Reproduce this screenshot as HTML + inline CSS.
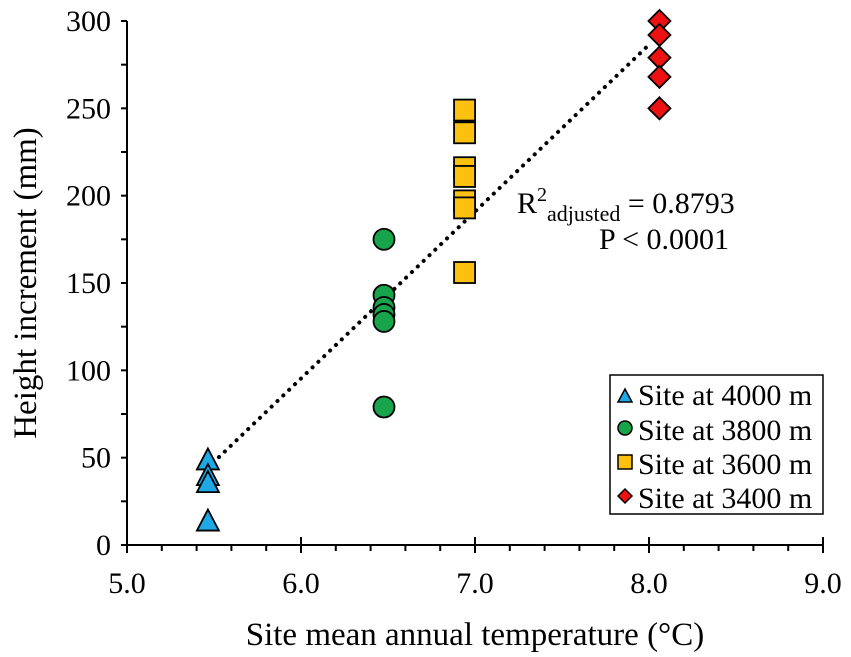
<!DOCTYPE html>
<html><head><meta charset="utf-8"><style>
body{margin:0;background:#fff}
svg{display:block;font-family:"Liberation Serif",serif}
</style></head><body>
<svg id="chart" width="851" height="657" viewBox="0 0 851 657" xmlns="http://www.w3.org/2000/svg">
<g id="axes"></g><g id="marks"></g>
<text x="517" y="213" font-size="30">R<tspan dy="-12" font-size="20">2</tspan><tspan dy="20" font-size="22">adjusted</tspan><tspan dy="-8"> = 0.8793</tspan></text>
<text x="599" y="249" font-size="30">P &lt; 0.0001</text>
<text x="475" y="645" font-size="33" text-anchor="middle">Site mean annual temperature (°C)</text>
<text transform="translate(36,283) rotate(-90)" font-size="33" text-anchor="middle">Height increment (mm)</text>
<g>
<rect x="610" y="375" width="213" height="139" fill="#fff" stroke="#000" stroke-width="1.5"/>
<polygon points="618,402 625,389 632,402" fill="#1ea8e6" stroke="#000" stroke-width="1.5"/>
<circle cx="625" cy="428" r="7" fill="#17a44b" stroke="#000" stroke-width="1.5"/>
<rect x="618" y="455" width="14" height="14" fill="#fcc10f" stroke="#000" stroke-width="1.5"/>
<polygon points="625,489 632,496 625,503 618,496" fill="#ee1111" stroke="#000" stroke-width="1.5"/>
<text x="638" y="405" font-size="30">Site at 4000 m</text>
<text x="638" y="440" font-size="30">Site at 3800 m</text>
<text x="638" y="474" font-size="30">Site at 3600 m</text>
<text x="638" y="508" font-size="30">Site at 3400 m</text>
</g>
</svg>
<script>
const xTicks=[5.0,6.0,7.0,8.0,9.0];
const yTicks=[0,50,100,150,200,250,300];
const tri_x=[5.465,5.465,5.465,5.465];
const tri_y=[49,40,36,14];
const cir_x=[6.477,6.477,6.477,6.477,6.477,6.477];
const cir_y=[175,143,136,132,128,79];
const sq_x=[6.94,6.94,6.94,6.94,6.94,6.94,6.94];
const sq_y=[249,236,216,211,197,193,156];
const dia_x=[8.06,8.06,8.06,8.06,8.06];
const dia_y=[300,292,279,268,250];
const NS="http://www.w3.org/2000/svg";
const X=v=>127+(v-5)*174, Y=v=>545-v*524/300;
const ax=document.getElementById('axes'), mk=document.getElementById('marks');
function el(t,a,p){const e=document.createElementNS(NS,t);for(const k in a)e.setAttribute(k,a[k]);p.appendChild(e);return e;}
let l=el('line',{x1:127,y1:545,x2:823,y2:545,stroke:'#000','stroke-width':2},ax);


l=el('line',{x1:127,y1:21,x2:127,y2:545,stroke:'#000','stroke-width':2},ax);


for(let v=5;v<=9.001;v+=0.2){const major=Math.abs(v-Math.round(v))<1e-6;
 el('line',{x1:X(v),x2:X(v),y1:major?537:545,y2:major?553:551,stroke:'#000','stroke-width':2},ax);}
xTicks.forEach(v=>{const t=el('text',{x:X(v),y:593,'font-size':30,'text-anchor':'middle'},ax);t.textContent=v.toFixed(1);
 
 });
for(let v=0;v<=300;v+=25){el('line',{x1:121,x2:127,y1:Y(v),y2:Y(v),stroke:'#000','stroke-width':2},ax);}
yTicks.forEach(v=>{const t=el('text',{x:111,y:Y(v)+10,'font-size':30,'text-anchor':'end'},ax);t.textContent=v;
 
 });
const ax_=[...tri_x,...cir_x,...sq_x,...dia_x], ay_=[...tri_y,...cir_y,...sq_y,...dia_y];
const n=ax_.length, mx=ax_.reduce((a,b)=>a+b)/n, my=ay_.reduce((a,b)=>a+b)/n;
let sxy=0,sxx=0;for(let i=0;i<n;i++){sxy+=(ax_[i]-mx)*(ay_[i]-my);sxx+=(ax_[i]-mx)**2;}
const b=sxy/sxx,a=my-b*mx, x0=Math.min(...ax_)+0.03, x1=Math.max(...ax_)-0.06;
l=el('line',{x1:X(x0),y1:Y(a+b*x0),x2:X(x1),y2:Y(a+b*x1),stroke:'#000','stroke-width':4,'stroke-dasharray':'0.1 8','stroke-linecap':'round'},mk);


const S='#000';
tri_x.forEach((x,i)=>{const cx=X(x),cy=Y(tri_y[i]);const p=el('polygon',{points:`${cx-11},${cy+10} ${cx},${cy-11} ${cx+11},${cy+10}`,fill:'#1ea8e6',stroke:S,'stroke-width':1.8},mk);
 
 });
cir_x.forEach((x,i)=>{const p=el('circle',{cx:X(x),cy:Y(cir_y[i]),r:10.5,fill:'#17a44b',stroke:S,'stroke-width':1.8},mk);
 
 });
sq_x.forEach((x,i)=>{const p=el('rect',{x:X(x)-10.5,y:Y(sq_y[i])-10.5,width:21,height:21,fill:'#fcc10f',stroke:S,'stroke-width':1.8},mk);
 
 });
dia_x.forEach((x,i)=>{const cx=X(x),cy=Y(dia_y[i]);const p=el('polygon',{points:`${cx},${cy-11} ${cx+11},${cy} ${cx},${cy+11} ${cx-11},${cy}`,fill:'#ee1111',stroke:S,'stroke-width':1.8},mk);
 
 });
</script>
</body></html>
